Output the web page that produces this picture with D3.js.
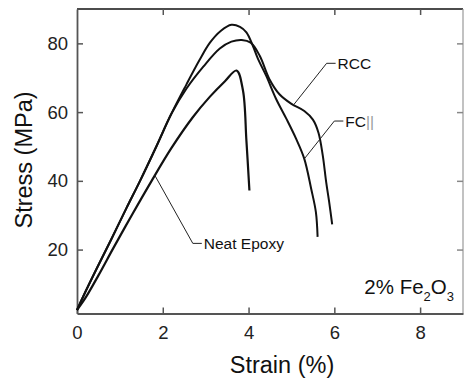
<!DOCTYPE html>
<html><head><meta charset="utf-8">
<script src="https://cdn.jsdelivr.net/npm/d3@7"></script>
<style>
body{margin:0;background:#fff;}
svg{display:block;font-family:"Liberation Sans",Arial,sans-serif;}
</style></head>
<body>
<svg id="chart" width="464" height="378"></svg>
<script>
// Data (strain %, stress MPa)
const neatStrain = [0, 0.2, 0.5, 0.85, 1.3, 1.74, 2.2, 2.7, 3.1, 3.45, 3.72, 3.87, 3.95, 4.02];
const neatStress = [2.4, 6, 12.5, 20.5, 30.5, 40, 49.5, 58.5, 64.5, 69, 72.1, 66.3, 51.7, 37.2];

const fcStrain = [0, 0.15, 0.46, 0.8, 1.15, 1.47, 1.85, 2.2, 2.55, 2.85, 3.1, 3.35, 3.6, 3.8, 3.95, 4.1, 4.22, 4.41, 4.64, 4.88, 5.11, 5.3, 5.46, 5.57, 5.61];
const fcStress = [2.4, 6.5, 14.5, 23, 32, 40, 50, 59.5, 68, 75, 80.2, 83.6, 85.4, 84.8, 83.2, 79.3, 75.5, 70.6, 63.9, 58.1, 52.2, 46.4, 37.7, 30.9, 23.7];

const rccStrain = [0, 0.15, 0.46, 0.8, 1.15, 1.47, 1.85, 2.2, 2.55, 2.95, 3.33, 3.6, 3.84, 4.05, 4.26, 4.49, 4.72, 5.0, 5.3, 5.5, 5.63, 5.73, 5.81, 5.88, 5.95];
const rccStress = [2.4, 6.5, 14.5, 23, 32, 40, 50, 59.5, 66.8, 73.3, 78.5, 80.5, 81, 80.2, 76.4, 69.5, 65.2, 62.4, 60.3, 57.8, 54, 47.4, 39.6, 33.8, 27.3];

const xTicks = [0, 2, 4, 6, 8];
const yTicks = [20, 40, 60, 80];
const xDomain = [0, 9];
const yDomain = [1.4, 90];

// Label anchors (data coordinates of leader-line endpoints on curves)
const labels = [
  {text: "RCC", on: [5.05, 62.1], elbow: [5.82, 74.2]},
  {text: "FC", extra: "||", on: [5.3, 46.4], elbow: [6.0, 57.4]},
  {text: "Neat Epoxy", on: [1.81, 41.7], elbow: [2.7, 21.8]}
];

const svg = d3.select("#chart");
const L = 77, R = 463, T = 9, B = 313.5;
const x = d3.scaleLinear().domain(xDomain).range([L, R]);
const y = d3.scaleLinear().domain(yDomain).range([B, T]);

const axisColor = "#555";
const tl = 6;

// frame
svg.append("line").attr("x1", L).attr("x2", R).attr("y1", T).attr("y2", T).attr("stroke", "#111").attr("stroke-width", 1.5);
svg.append("line").attr("x1", R).attr("x2", R).attr("y1", T).attr("y2", B).attr("stroke", "#999").attr("stroke-width", 1.2);

// bottom axis
const xAxis = d3.axisBottom(x).tickValues(xTicks).tickSizeInner(-tl).tickSizeOuter(0).tickPadding(12);
const gx = svg.append("g").attr("transform", `translate(0,${B})`).call(xAxis);
gx.select(".domain").attr("stroke", axisColor).attr("stroke-width", 1.8);
gx.selectAll(".tick line").attr("stroke", axisColor).attr("stroke-width", 1.5);
gx.selectAll(".tick text").attr("font-size", 18.5).attr("fill", "#222").attr("font-family", "Liberation Sans, Arial, sans-serif");

// top ticks
const gxt = svg.append("g").attr("transform", `translate(0,${T})`).call(d3.axisTop(x).tickValues(xTicks.filter(d => d > 0)).tickSizeInner(-tl).tickSizeOuter(0).tickFormat(""));
gxt.select(".domain").remove();
gxt.selectAll(".tick line").attr("stroke", axisColor).attr("stroke-width", 1.5);

// left axis
const yAxis = d3.axisLeft(y).tickValues(yTicks).tickSizeInner(-tl).tickSizeOuter(0).tickPadding(9);
const gy = svg.append("g").attr("transform", `translate(${L},0)`).call(yAxis);
gy.select(".domain").attr("stroke", axisColor).attr("stroke-width", 1.8);
gy.selectAll(".tick line").attr("stroke", axisColor).attr("stroke-width", 1.5);
gy.selectAll(".tick text").attr("font-size", 18.5).attr("fill", "#222").attr("font-family", "Liberation Sans, Arial, sans-serif");

// right ticks
const gyr = svg.append("g").attr("transform", `translate(${R},0)`).call(d3.axisRight(y).tickValues(yTicks).tickSizeInner(-tl).tickSizeOuter(0).tickFormat(""));
gyr.select(".domain").remove();
gyr.selectAll(".tick line").attr("stroke", "#888").attr("stroke-width", 1.5);

// axis titles
svg.append("text").attr("x", 282).attr("y", 372.5).attr("text-anchor", "middle")
  .attr("font-size", 23.5).attr("fill", "#111").text("Strain (%)");
svg.append("text").attr("transform", "translate(32,160) rotate(-90)").attr("text-anchor", "middle")
  .attr("font-size", 23.5).attr("fill", "#111").text("Stress (MPa)");

// curves
const line = d3.line().x(d => x(d[0])).y(d => y(d[1])).curve(d3.curveCatmullRom.alpha(0.5));
const series = [
  [neatStrain, neatStress, 2.2],
  [fcStrain, fcStress, 2],
  [rccStrain, rccStress, 2]
];
series.forEach(([xs, ys, w]) => {
  svg.append("path").datum(xs.map((v, i) => [v, ys[i]]))
    .attr("d", line).attr("fill", "none").attr("stroke", "#111").attr("stroke-width", w)
    .attr("stroke-linejoin", "round");
});

// leader lines + labels
labels.forEach(l => {
  const ex = x(l.elbow[0]), ey = y(l.elbow[1]);
  svg.append("path")
    .attr("d", `M${x(l.on[0])},${y(l.on[1])}L${ex},${ey}L${ex + 9},${ey}`)
    .attr("fill", "none").attr("stroke", "#222").attr("stroke-width", 1);
  const t = svg.append("text").attr("x", ex + 11).attr("y", ey + 5.5)
    .attr("font-size", 15.5).attr("fill", "#111");
  t.append("tspan").text(l.text);
  if (l.extra) t.append("tspan").attr("fill", "#999").attr("font-weight", 300).text(l.extra);
});

// annotation 2% Fe2O3
const ann = svg.append("text").attr("x", 454).attr("y", 293.5).attr("text-anchor", "end")
  .attr("font-size", 20.5).attr("fill", "#111");
ann.append("tspan").text("2% Fe");
ann.append("tspan").attr("font-size", 13).attr("dy", 7).text("2");
ann.append("tspan").attr("dy", -7).text("O");
ann.append("tspan").attr("font-size", 13).attr("dy", 7).text("3");
</script>
</body></html>
